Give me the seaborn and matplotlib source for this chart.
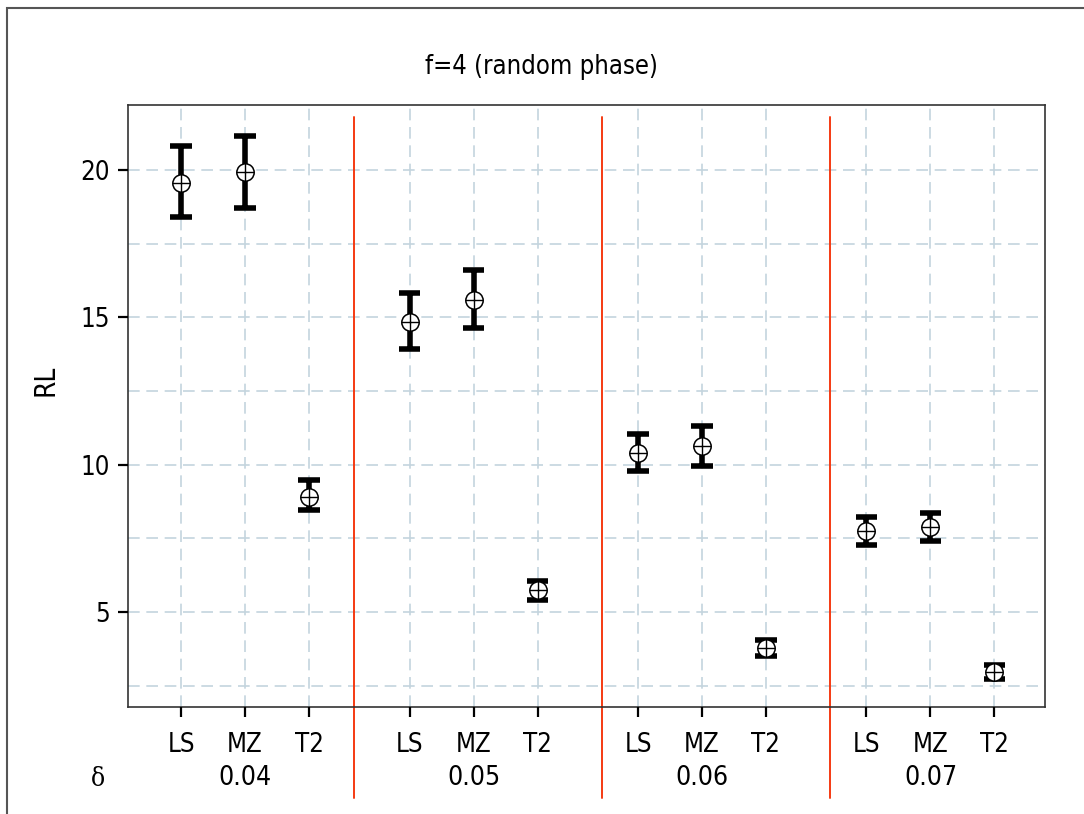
import matplotlib
matplotlib.use("Agg")
import numpy as np
import pandas as pd
import seaborn as sns
import matplotlib.pyplot as plt
from matplotlib.patches import Rectangle
from matplotlib import transforms

# ---------------- data ----------------
deltas = ["0.04", "0.05", "0.06", "0.07"]
methods = ["LS", "MZ", "T2"]
rl_mean = [19.57, 19.93, 8.91,
           14.85, 15.57, 5.74,
           10.40, 10.65, 3.78,
           7.75, 7.89, 2.98]
rl_low = [18.40, 18.69, 8.46,
          13.92, 14.64, 5.40,
          9.77, 9.94, 3.51,
          7.29, 7.42, 2.73]
rl_high = [20.82, 21.16, 9.48,
           15.82, 16.62, 6.06,
           11.03, 11.31, 4.05,
           8.23, 8.35, 3.22]
title = "f=4 (random phase)"
y_label = "RL"
x_prefix = "\u03b4"
y_ticks = [5, 10, 15, 20]

# ---------------- layout ----------------
group_step = 3.57          # spacing between groups (in units of within-group spacing)
sep_pos = [2.70, 6.58, 10.14]

sns.set_theme(style="ticks")
plt.rcParams["font.family"] = ["DejaVu Sans"]
plt.rcParams["font.stretch"] = "condensed"
plt.rcParams["text.color"] = "black"
plt.rcParams["axes.axisbelow"] = False

W, H = 1084, 814
AX_L, AX_R, AX_T, AX_B = 128, 1045, 105, 707
fig = plt.figure(figsize=(W / 100, H / 100), dpi=100)
fig.patch.set_facecolor("white")
ax = fig.add_axes([AX_L / W, 1 - AX_B / H, (AX_R - AX_L) / W, (AX_B - AX_T) / H])

pos = []
for g in range(len(deltas)):
    for i in range(len(methods)):
        pos.append(g * group_step + i)

rows = []
for p, lo, m, hi in zip(pos, rl_low, rl_mean, rl_high):
    for v in (lo, m, hi):
        rows.append({"pos": p, "RL": v})
df = pd.DataFrame(rows)

sns.pointplot(data=df, x="pos", y="RL", native_scale=True,
              estimator="median", errorbar=("pi", 100),
              color="black", linestyle="none", marker="o",
              markersize=12.5, markerfacecolor="white",
              markeredgecolor="black", markeredgewidth=1.1,
              capsize=0.34, err_kws={"linewidth": 4.0, "zorder": 3,
                                      "solid_capstyle": "butt"},
              zorder=4, ax=ax)

centers = pd.DataFrame({"pos": pos, "RL": rl_mean})
sns.scatterplot(data=centers, x="pos", y="RL", marker="+", s=160,
                color="black", linewidth=1.0, zorder=5, ax=ax, legend=False)

# axes limits / ticks
ax.set_xlim(-0.83, 13.5)
ax.set_ylim(1.78, 22.2)
ax.set_xticks(pos, labels=methods * len(deltas))
ax.set_yticks(y_ticks)
ax.set_xlabel("")
ax.set_ylabel("")

grid_col = "#c4d4de"
ax.grid(False)
for yv in np.arange(2.5, 22.1, 2.5):
    ax.axhline(yv, color=grid_col, lw=1.2, ls=(0, (7, 4)), zorder=1)
for p in pos:
    ax.axvline(p, color=grid_col, lw=1.2, ls=(0, (7, 4)), zorder=1)

for s in ax.spines.values():
    s.set_visible(True)
    s.set_color("#333333")
    s.set_linewidth(1.2)

ax.tick_params(axis="both", which="major", direction="out", length=7, width=1.4,
               color="black", labelsize=18.5, labelcolor="black",
               bottom=True, left=True, top=False, right=False)
ax.tick_params(axis="x", pad=11)
ax.tick_params(axis="y", pad=6)

# explicit outward tick marks at the tick positions
tick_px = 10
xtrans = transforms.blended_transform_factory(ax.transData, ax.transAxes)
ytrans = transforms.blended_transform_factory(ax.transAxes, ax.transData)
ax.vlines(pos, -tick_px / (AX_B - AX_T), 0, transform=xtrans, colors="black",
          linewidth=1.6, clip_on=False, zorder=6)
ax.hlines(y_ticks, -tick_px / (AX_R - AX_L), 0, transform=ytrans, colors="black",
          linewidth=1.6, clip_on=False, zorder=6)

# red separators extending below the axes
for sp in sep_pos:
    ax.axvline(sp, ymin=(AX_B - 798) / (AX_B - AX_T), ymax=(AX_B - 117) / (AX_B - AX_T),
               color="#f53a12", lw=1.4, clip_on=False, zorder=2)

# group labels
trans = transforms.blended_transform_factory(ax.transData, fig.transFigure)
for g, d in enumerate(deltas):
    ax.text(g * group_step + 1, 1 - 778 / H, d, transform=trans,
            ha="center", va="center", fontsize=19, color="black")
fig.text(98 / W, 1 - 778 / H, x_prefix, ha="center", va="center",
         fontsize=19, family="DejaVu Serif", color="black")

fig.text(45 / W, 1 - 380 / H, y_label, rotation=90, ha="center", va="center",
         fontsize=20, color="black")
fig.text(541 / W, 1 - 67 / H, title, ha="center", va="center", fontsize=18.4,
         color="black")

# outer frame (left and top edges visible)
fig.add_artist(Rectangle((7 / W, -0.05), 1.1, 1 - 8 / H + 0.05,
                         transform=fig.transFigure, fill=False,
                         edgecolor="#555555", lw=1.5))

fig.savefig("out.png", dpi=100, facecolor="white")
